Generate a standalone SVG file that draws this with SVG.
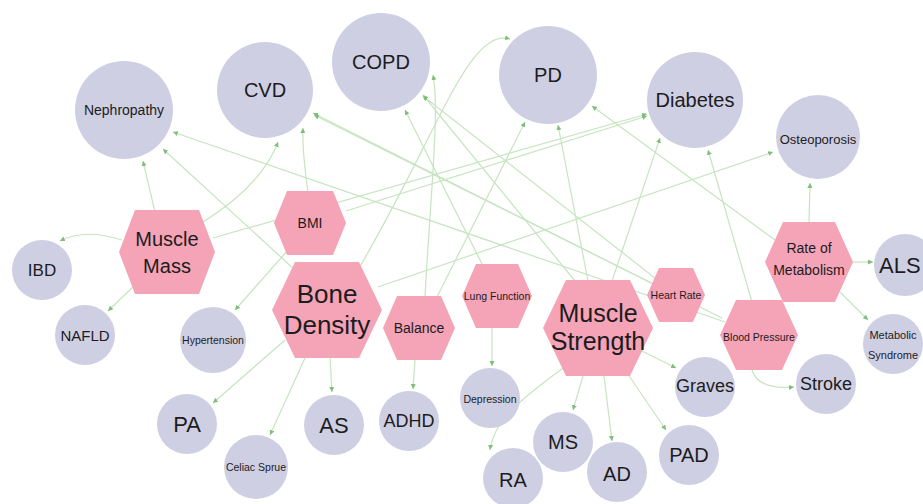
<svg xmlns="http://www.w3.org/2000/svg" width="923" height="504" viewBox="0 0 923 504">
<defs>
<style>
.e{fill:none;stroke:#c6e5c0;stroke-width:1.2}
.c{fill:#cfcfe4}
.h{fill:#f5a3b7}
text{font-family:"Liberation Sans",Arial,sans-serif;fill:#1c1c1c;text-anchor:middle;dominant-baseline:central}
</style>
<marker id="a" viewBox="0 0 6 6" refX="6" refY="3" markerWidth="5" markerHeight="5" markerUnits="userSpaceOnUse" orient="auto">
<path d="M0,0 L6,3 L0,6 z" fill="#7dbf78"/>
</marker>
</defs>
<rect width="923" height="504" fill="#ffffff"/>
<g id="connectors" marker-end="url(#a)">
<path class="e" d="M155,212 L143,161"/>
<path class="e" d="M203,222 Q262,185 278,142"/>
<path class="e" d="M122,240 Q85,228 60,241"/>
<path class="e" d="M135,285 L108,311"/>
<path class="e" d="M213,238 L647,114"/>
<path class="e" d="M308,192 Q302,150 303,128"/>
<path class="e" d="M346,211 L647,116"/>
<path class="e" d="M288,250 L235,310"/>
<path class="e" d="M295,270 L163,149"/>
<path class="e" d="M285,340 L213,403"/>
<path class="e" d="M305,358 L270,435"/>
<path class="e" d="M330,358 L332,392"/>
<path class="e" d="M358,270 C440,130 468,28 510,39"/>
<path class="e" d="M378,287 L773,152"/>
<path class="e" d="M415,360 L413,389"/>
<path class="e" d="M425,297 C430,200 440,110 433,75"/>
<path class="e" d="M437,297 L525,122"/>
<path class="e" d="M483,266 L405,110"/>
<path class="e" d="M492,328 L492,366"/>
<path class="e" d="M588,281 L558,125"/>
<path class="e" d="M612,281 L660,138"/>
<path class="e" d="M575,281 L423,95"/>
<path class="e" d="M640,350 L676,368"/>
<path class="e" d="M583,376 L573,410"/>
<path class="e" d="M604,376 L612,441"/>
<path class="e" d="M625,370 L666,430"/>
<path class="e" d="M563,368 C520,400 494,420 490,450"/>
<path class="e" d="M655,285 L313,113"/>
<path class="e" d="M660,282 L423,96"/>
<path class="e" d="M725,322 L173,132"/>
<path class="e" d="M752,302 L708,150"/>
<path class="e" d="M752,370 Q758,390 794,387"/>
<path class="e" d="M722,318 L314,115"/>
<path class="e" d="M809,223 L810,183"/>
<path class="e" d="M853,262 L873,262"/>
<path class="e" d="M840,292 L868,320"/>
<path class="e" d="M775,240 L592,106"/>
</g>
<g id="n-nephropathy"><circle class="c" cx="124" cy="110" r="49"/><text x="124" y="110" font-size="14">Nephropathy</text></g>
<g id="n-cvd"><circle class="c" cx="265" cy="90" r="48"/><text x="265" y="90" font-size="20">CVD</text></g>
<g id="n-copd"><circle class="c" cx="381" cy="62" r="49"/><text x="381" y="62" font-size="20">COPD</text></g>
<g id="n-pd"><circle class="c" cx="548" cy="75" r="49"/><text x="548" y="75" font-size="20">PD</text></g>
<g id="n-diabetes"><circle class="c" cx="695" cy="100" r="48"/><text x="695" y="100" font-size="20">Diabetes</text></g>
<g id="n-osteoporosis"><circle class="c" cx="818" cy="137" r="42"/><text x="818" y="139" font-size="13">Osteoporosis</text></g>
<g id="n-als"><circle class="c" cx="905" cy="265" r="31"/><text x="879" y="265" font-size="22" style="text-anchor:start">ALS</text></g>
<g id="n-metabolic"><circle class="c" cx="893" cy="344" r="30"/><text x="893" y="335" font-size="11">Metabolic</text><text x="893" y="355" font-size="11">Syndrome</text></g>
<g id="n-ibd"><circle class="c" cx="42" cy="270" r="30"/><text x="42" y="270" font-size="17">IBD</text></g>
<g id="n-nafld"><circle class="c" cx="85" cy="335" r="30"/><text x="85" y="335" font-size="15">NAFLD</text></g>
<g id="n-hypertension"><circle class="c" cx="213" cy="340" r="33"/><text x="213" y="340" font-size="10.5">Hypertension</text></g>
<g id="n-pa"><circle class="c" cx="187" cy="424" r="30"/><text x="187" y="424" font-size="22">PA</text></g>
<g id="n-celiac"><circle class="c" cx="256" cy="467" r="32"/><text x="256" y="467" font-size="10.5">Celiac Sprue</text></g>
<g id="n-as"><circle class="c" cx="334" cy="425" r="30"/><text x="334" y="425" font-size="22">AS</text></g>
<g id="n-adhd"><circle class="c" cx="409" cy="421" r="30"/><text x="409" y="421" font-size="18">ADHD</text></g>
<g id="n-depression"><circle class="c" cx="490" cy="398" r="30"/><text x="490" y="399" font-size="10.5">Depression</text></g>
<g id="n-ms"><circle class="c" cx="563" cy="442" r="30"/><text x="563" y="442" font-size="20">MS</text></g>
<g id="n-ra"><circle class="c" cx="513" cy="478" r="30"/><text x="513" y="480" font-size="20">RA</text></g>
<g id="n-ad"><circle class="c" cx="617" cy="472" r="30"/><text x="617" y="474" font-size="20">AD</text></g>
<g id="n-pad"><circle class="c" cx="689" cy="455" r="30"/><text x="689" y="455" font-size="20">PAD</text></g>
<g id="n-graves"><circle class="c" cx="705" cy="387" r="30"/><text x="705" y="386" font-size="18">Graves</text></g>
<g id="n-stroke"><circle class="c" cx="826" cy="384" r="30"/><text x="826" y="384" font-size="18">Stroke</text></g>
<g id="n-muscle-mass"><polygon class="h" points="119,252 135,210 199,210 215,252 199,294 135,294"/><text x="167" y="239" font-size="20">Muscle</text><text x="167" y="266" font-size="20">Mass</text></g>
<g id="n-bmi"><polygon class="h" points="274,223 287,191 333,191 346,223 333,255 287,255"/><text x="310" y="223" font-size="14">BMI</text></g>
<g id="n-bone-density"><polygon class="h" points="272,310 295,262 359,262 382,310 359,358 295,358"/><text x="327" y="294" font-size="26">Bone</text><text x="327" y="325" font-size="26">Density</text></g>
<g id="n-balance"><polygon class="h" points="383,328 397,296 441,296 455,328 441,360 397,360"/><text x="419" y="328" font-size="14">Balance</text></g>
<g id="n-lung-function"><polygon class="h" points="462,296 476,264 518,264 532,296 518,328 476,328"/><text x="497" y="296" font-size="10.5">Lung Function</text></g>
<g id="n-muscle-strength"><polygon class="h" points="543,328 566,280 630,280 653,328 630,376 566,376"/><text x="598" y="313" font-size="25">Muscle</text><text x="598" y="341" font-size="25">Strength</text></g>
<g id="n-heart-rate"><polygon class="h" points="647,295 659,268 693,268 705,295 693,322 659,322"/><text x="676" y="295" font-size="10.5">Heart Rate</text></g>
<g id="n-blood-pressure"><polygon class="h" points="720,335 736,300 782,300 798,335 782,370 736,370"/><text x="759" y="337" font-size="10.5">Blood Pressure</text></g>
<g id="n-rate-of-metabolism"><polygon class="h" points="765,262 783,222 835,222 853,262 835,302 783,302"/><text x="809" y="248" font-size="14">Rate of</text><text x="809" y="270" font-size="14">Metabolism</text></g>
</svg>
